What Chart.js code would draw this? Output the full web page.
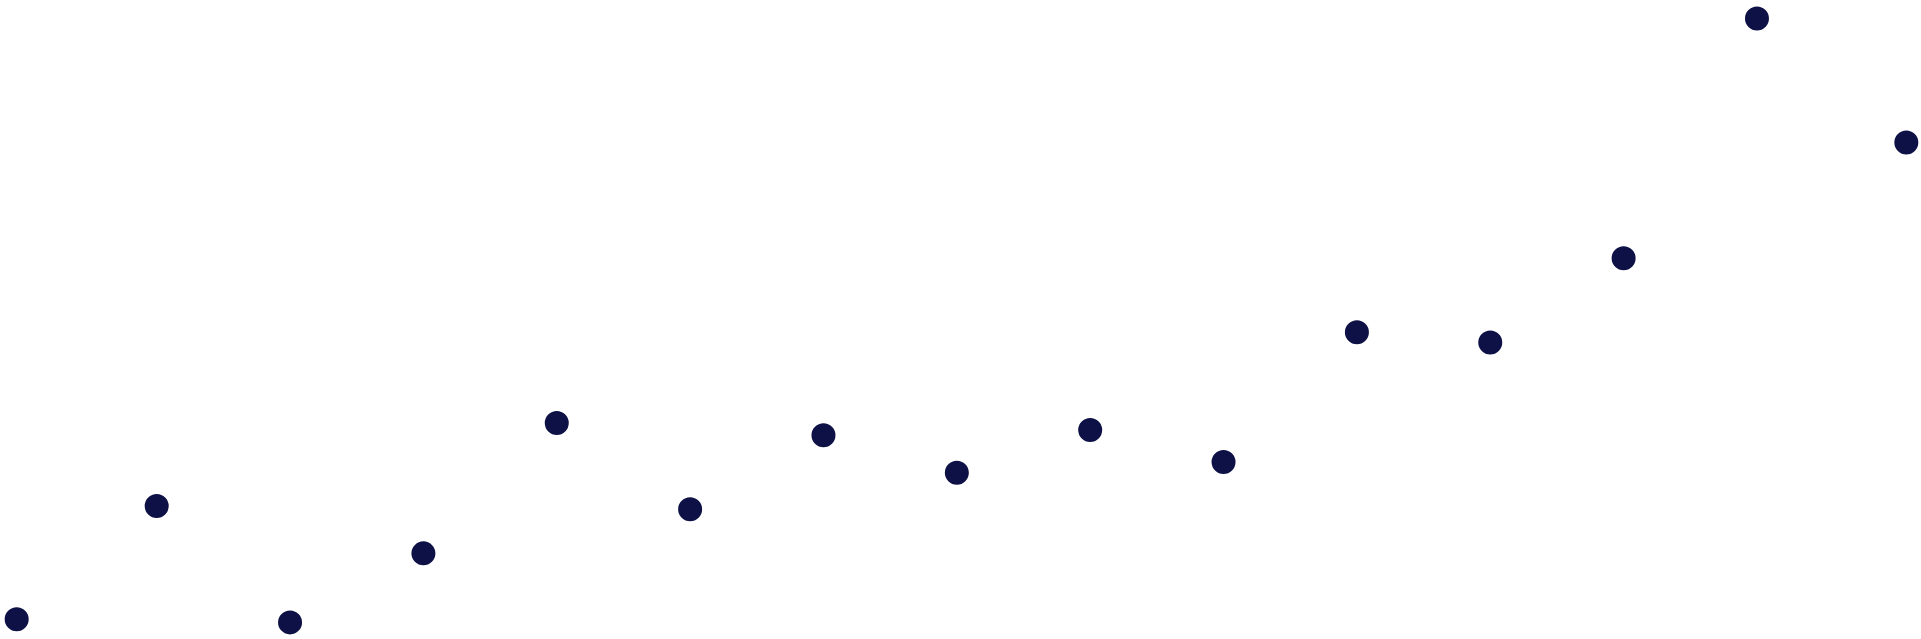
<!DOCTYPE html>
<html>
<head>
<meta charset="utf-8">
<script src="https://cdn.jsdelivr.net/npm/chart.js@4"></script>
<style>
  html, body { margin: 0; padding: 0; background: #ffffff; overflow: hidden; }
  #wrap { position: relative; width: 1921px; height: 639px; }
</style>
</head>
<body>
<div id="wrap"><canvas id="chart"></canvas></div>
<script>
// Data
const xValues = [-0.05, 1, 2, 3, 4, 5, 6, 7, 8, 9, 10, 11, 12, 13, 14.12];
const yValues = [3.1, 20.8, 2.6, 13.4, 33.8, 20.3, 31.9, 26.0, 32.7, 27.7, 48.0, 46.4, 59.6, 97.1, 77.7];
const xRange = [-0.175, 14.23];
const yRange = [0, 100];

const points = xValues.map((x, i) => ({ x: x, y: yValues[i] }));

new Chart(document.getElementById('chart'), {
  type: 'scatter',
  data: {
    datasets: [{
      data: points,
      backgroundColor: '#0e1145',
      borderColor: '#ffffff',
      borderWidth: 4,
      pointRadius: 14,
      pointHoverRadius: 14,
      clip: false
    }]
  },
  options: {
    responsive: true,
    maintainAspectRatio: false,
    animation: false,
    layout: { padding: 0, autoPadding: false },
    plugins: { legend: { display: false }, tooltip: { enabled: false } },
    scales: {
      x: { type: 'linear', display: false, min: xRange[0], max: xRange[1] },
      y: { type: 'linear', display: false, min: yRange[0], max: yRange[1] }
    }
  }
});
</script>
</body>
</html>
